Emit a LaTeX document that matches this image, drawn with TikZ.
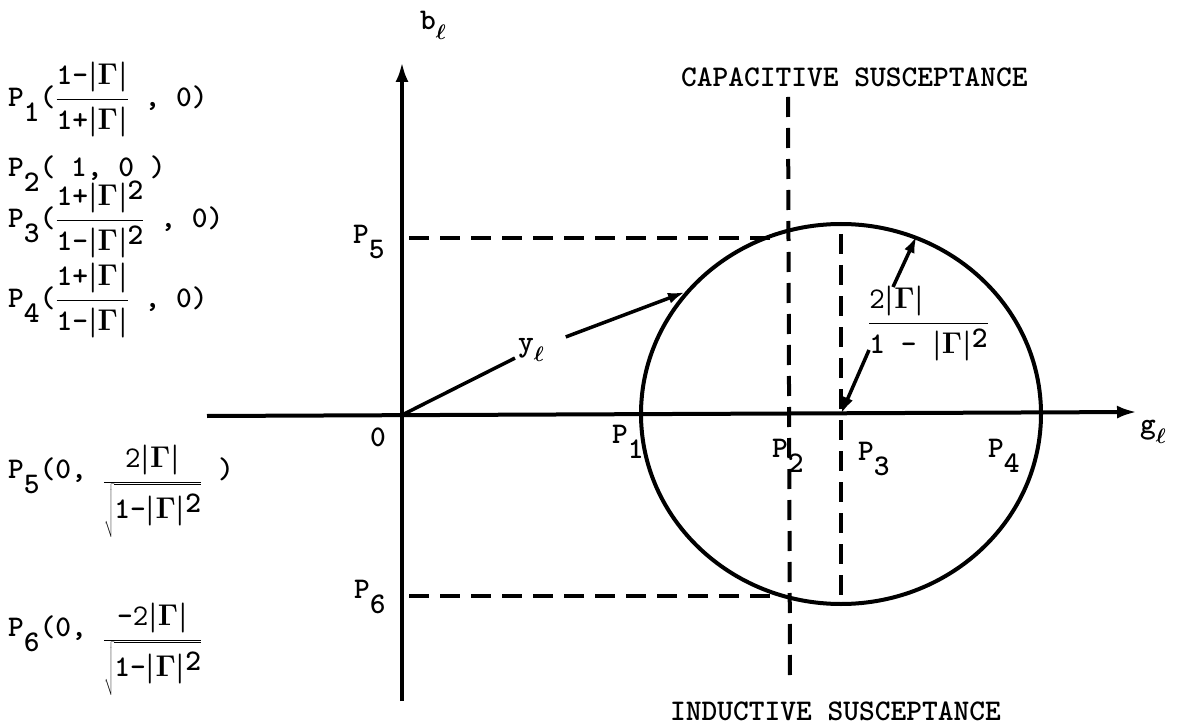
\RequirePackage{fix-cm}
\documentclass[tikz,border=0pt]{standalone}
\usetikzlibrary{arrows.meta,shapes.geometric}
\newcommand\lsub[1]{\raisebox{-15pt}{#1}}
\newcommand\ellsub{\raisebox{-10pt}{$\scriptstyle\ell$}}
\newcommand\absG{|\Gamma|}
\newcommand\tm[1]{\mbox{\ttfamily\bfseries #1}}
\newcommand\sqtwo{\raisebox{6pt}{\ttfamily\bfseries 2}}
\newcommand\dfr[2]{{\displaystyle\frac{#1}{#2}}}
\newcommand\bigsqrt[1]{\sqrt{\rule[-18pt]{0pt}{50pt}#1}}
\tikzset{
  lbl/.style={font=\fontsize{30}{36}\selectfont\ttfamily\bfseries\boldmath, inner sep=0pt},
  axisline/.style={line width=4pt, -{Latex[length=20pt,width=13pt]}},
  dashline/.style={line width=4pt, dash pattern=on 20pt off 11pt},
  plainline/.style={line width=3.5pt},
  ptr/.style={line width=3.5pt, -{Latex[length=17pt,width=11pt]}},
  circ/.style={draw, ellipse, line width=4pt, minimum width=400pt, minimum height=380pt, inner sep=0pt}
}
\begin{document}
\begin{tikzpicture}[x=1pt,y=-1pt]
\useasboundingbox (0,0) rectangle (1180,727);
% axes
\coordinate (ytop) at (402,62);
\coordinate (ybot) at (402,701);
\coordinate (xleft) at (207,416);
\coordinate (xright) at (1137,412);
\coordinate (O) at (402,415);
\draw[axisline] (ybot) -- (ytop);
\draw[axisline] (xleft) -- (xright);
% circle
\node[circ] (C) at (841,414) {};
% dashed lines
\coordinate (p5a) at (409,238); \coordinate (p5b) at (774,238);
\coordinate (p6a) at (409,596); \coordinate (p6b) at (776,596);
\coordinate (p2a) at (788,97);  \coordinate (p2b) at (790,678);
\coordinate (p3a) at (841,234); \coordinate (p3b) at (841,600);
\draw[dashline] (p5a) -- (p5b);
\draw[dashline] (p6a) -- (p6b);
\draw[dashline] (p2a) -- (p2b);
\draw[dashline] (p3a) -- (p3b);
% top / bottom texts
\node[lbl, anchor=base west] (cap) at (681,87) {CAPACITIVE SUSCEPTANCE};
\node[lbl, anchor=base west] (ind) at (670,720) {INDUCTIVE SUSCEPTANCE};
% axis labels
\node[lbl, anchor=base west] (bl) at (420,30) {b\ellsub};
\node[lbl, anchor=base west] (gl) at (1140,433) {g\ellsub};
\node[lbl, anchor=base west] (zero) at (370,446) {0};
\node[lbl, anchor=base west] (P1) at (612,443) {P\lsub{1}};
\node[lbl, anchor=base west] (P2) at (772,457) {P\lsub{2}};
\node[lbl, anchor=base west] (P3) at (858,460) {P\lsub{3}};
\node[lbl, anchor=base west] (P4) at (988,457) {P\lsub{4}};
\node[lbl, anchor=base west] (P5) at (353,244) {P\lsub{5}};
\node[lbl, anchor=base west] (P6) at (354,598) {P\lsub{6}};
% y_l vector
\node[lbl, inner sep=3pt] (yl) at (531,350) {y\ellsub};
\draw[plainline] (O) -- (yl);
\draw[ptr, shorten <=20pt] (yl) -- (C.142);
% radius label and arrows
\node[lbl, anchor=base west] (rl) at (868,331)
  {$\dfr{\rlap{$\mathtt{2}\absG$}\phantom{\tm{1 - }\absG\sqtwo}}{\tm{1 - }\absG\sqtwo}$};
\coordinate (r1tail) at (893,287);
\coordinate (r2tail) at (869,350);
\draw[ptr] (r1tail) -- (C.67);
\draw[ptr] (r2tail) -- (C.center);
% left formulas
\node[lbl, anchor=base west] (f1) at (8,107)
  {P\lsub{1}($\dfr{\tm{1-}\absG}{\tm{1+}\absG}$ , 0)};
\node[lbl, anchor=base west] (f2) at (8,177) {P\lsub{2}( 1, 0 )};
\node[lbl, anchor=base west] (f3) at (8,228)
  {P\lsub{3}($\dfr{\tm{1+}\absG\sqtwo}{\tm{1-}\absG\sqtwo}$ , 0)};
\node[lbl, anchor=base west] (f4) at (8,307.5)
  {P\lsub{4}($\dfr{\tm{1+}\absG}{\tm{1-}\absG}$ , 0)};
\node[lbl, anchor=base west] (f5) at (8,489.5)
  {\raisebox{11pt}{P\lsub{5}(0, }$\dfr{\mathtt{2}\absG}{\bigsqrt{\tm{1-}\absG\sqtwo}}$\raisebox{11pt}{ )}};
\node[lbl, anchor=base west] (f6) at (8,647.5)
  {\raisebox{11pt}{P\lsub{6}(0, }$\dfr{\tm{-}\mathtt{2}\absG}{\bigsqrt{\tm{1-}\absG\sqtwo}}$};
\end{tikzpicture}
\end{document}
